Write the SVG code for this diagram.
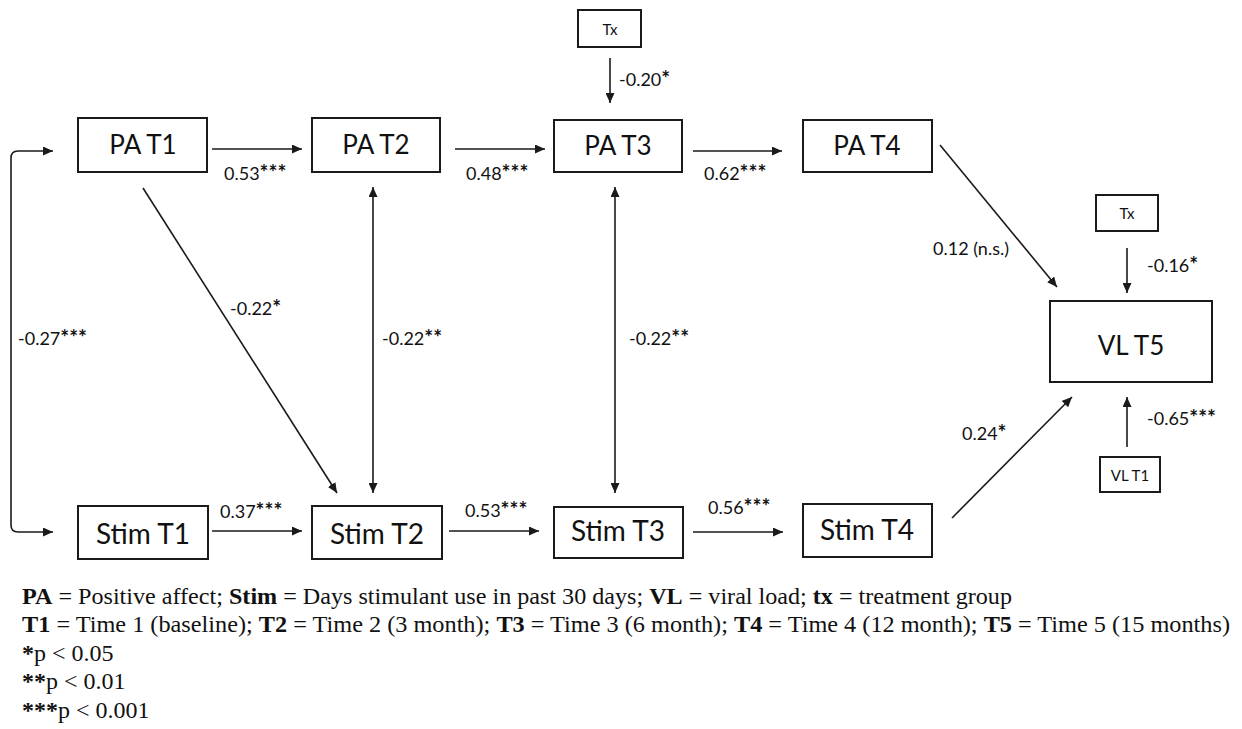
<svg xmlns="http://www.w3.org/2000/svg" width="1242" height="729" viewBox="0 0 1242 729">
<style>
.box{fill:#fff;stroke:#1a1a1a;stroke-width:2}
.lbl{font-family:Lato,"Open Sans",sans-serif;fill:#111;text-anchor:middle}
.big{font-size:26px}
.stim{font-size:28px}
.sm{font-size:15px}
.coef{font-family:Lato,"Open Sans",sans-serif;font-size:18px;fill:#111}
.st{font-size:21px;font-weight:bold}
.con{fill:none;stroke:#1a1a1a;stroke-width:1.6}
.leg{font-family:"Liberation Serif","Times New Roman",serif;font-size:23px;fill:#111}
.leg2{font-size:24px}
.b{font-weight:bold}
</style>
<defs>
<marker id="ah" markerUnits="userSpaceOnUse" markerWidth="11" markerHeight="9" refX="10" refY="4.5" orient="auto-start-reverse">
<path d="M0,0 L10,4.5 L0,9 z" fill="#1a1a1a"/>
</marker>
</defs>
<rect width="1242" height="729" fill="#fff"/>
<g id="connectors">
<path class="con" d="M53,151 L18,151 Q11,151 11,158 L11,525 Q11,532 18,532 L53,532" marker-start="url(#ah)" marker-end="url(#ah)"/>
<line class="con" x1="212" y1="149" x2="302" y2="149" marker-end="url(#ah)"/>
<line class="con" x1="455" y1="149" x2="545" y2="149" marker-end="url(#ah)"/>
<line class="con" x1="693" y1="151" x2="782" y2="151" marker-end="url(#ah)"/>
<line class="con" x1="610" y1="58" x2="610" y2="103" marker-end="url(#ah)"/>
<line class="con" x1="143" y1="188" x2="337" y2="493" marker-end="url(#ah)"/>
<line class="con" x1="373" y1="187" x2="373" y2="493" marker-start="url(#ah)" marker-end="url(#ah)"/>
<line class="con" x1="615" y1="187" x2="615" y2="493" marker-start="url(#ah)" marker-end="url(#ah)"/>
<line class="con" x1="212" y1="531" x2="302" y2="531" marker-end="url(#ah)"/>
<line class="con" x1="449" y1="531" x2="539" y2="531" marker-end="url(#ah)"/>
<line class="con" x1="693" y1="532" x2="783" y2="532" marker-end="url(#ah)"/>
<line class="con" x1="940" y1="145" x2="1057" y2="287" marker-end="url(#ah)"/>
<line class="con" x1="952" y1="518" x2="1072" y2="397" marker-end="url(#ah)"/>
<line class="con" x1="1127" y1="248" x2="1127" y2="293" marker-end="url(#ah)"/>
<line class="con" x1="1127" y1="447" x2="1127" y2="397" marker-end="url(#ah)"/>
<text class="coef" x="224" y="180">0.53<tspan class="st">***</tspan></text>
<text class="coef" x="466" y="180">0.48<tspan class="st">***</tspan></text>
<text class="coef" x="704" y="180">0.62<tspan class="st">***</tspan></text>
<text class="coef" x="619" y="86">-0.20<tspan class="st">*</tspan></text>
<text class="coef" x="18" y="345">-0.27<tspan class="st">***</tspan></text>
<text class="coef" x="230" y="315">-0.22<tspan class="st">*</tspan></text>
<text class="coef" x="382" y="345">-0.22<tspan class="st">**</tspan></text>
<text class="coef" x="629" y="345">-0.22<tspan class="st">**</tspan></text>
<text class="coef" x="220" y="518">0.37<tspan class="st">***</tspan></text>
<text class="coef" x="465" y="517">0.53<tspan class="st">***</tspan></text>
<text class="coef" x="708" y="514">0.56<tspan class="st">***</tspan></text>
<text class="coef" x="933" y="255">0.12 (n.s.)</text>
<text class="coef" x="962" y="440">0.24<tspan class="st">*</tspan></text>
<text class="coef" x="1147" y="272">-0.16<tspan class="st">*</tspan></text>
<text class="coef" x="1147" y="425">-0.65<tspan class="st">***</tspan></text>
</g>
<g id="pa_t1"><rect class="box" x="78" y="118" width="129" height="54"/><text class="lbl big" x="143" y="154">PA T1</text></g>
<g id="pa_t2"><rect class="box" x="312" y="118" width="128" height="54"/><text class="lbl big" x="376" y="154">PA T2</text></g>
<g id="pa_t3"><rect class="box" x="554" y="120" width="128" height="52"/><text class="lbl big" x="618" y="155">PA T3</text></g>
<g id="pa_t4"><rect class="box" x="803" y="120" width="129" height="52"/><text class="lbl big" x="867" y="155">PA T4</text></g>
<g id="tx_top"><rect class="box" x="578" y="10" width="63" height="37" stroke-width="1.6"/><text class="lbl sm" x="610" y="35">Tx</text></g>
<g id="stim_t1"><rect class="box" x="78" y="506" width="130" height="53"/><text class="lbl stim" x="143" y="544">Stim T1</text></g>
<g id="stim_t2"><rect class="box" x="312" y="506" width="130" height="53"/><text class="lbl stim" x="377" y="544">Stim T2</text></g>
<g id="stim_t3"><rect class="box" x="554" y="507" width="129" height="51"/><text class="lbl stim" x="618" y="541">Stim T3</text></g>
<g id="stim_t4"><rect class="box" x="803" y="504" width="129" height="53"/><text class="lbl stim" x="867" y="540">Stim T4</text></g>
<g id="vl_t5"><rect class="box" x="1050" y="301" width="162" height="81"/><text class="lbl big" x="1131" y="355">VL T5</text></g>
<g id="tx_right"><rect class="box" x="1096" y="195" width="62" height="36" stroke-width="1.6"/><text class="lbl sm" x="1127" y="219">Tx</text></g>
<g id="vl_t1"><rect class="box" x="1100" y="457" width="60" height="35" stroke-width="1.6"/><text class="lbl sm" x="1130" y="481">VL T1</text></g>
<g id="legend">
<text class="leg" x="22" y="604" textLength="990" lengthAdjust="spacingAndGlyphs"><tspan class="b">PA</tspan> = Positive affect; <tspan class="b">Stim</tspan> = Days stimulant use in past 30 days; <tspan class="b">VL</tspan> = viral load; <tspan class="b">tx</tspan> = treatment group</text>
<text class="leg" x="22" y="632" textLength="1208" lengthAdjust="spacingAndGlyphs"><tspan class="b">T1</tspan> = Time 1 (baseline); <tspan class="b">T2</tspan> = Time 2 (3 month); <tspan class="b">T3</tspan> = Time 3 (6 month); <tspan class="b">T4</tspan> = Time 4 (12 month); <tspan class="b">T5</tspan> = Time 5 (15 months)</text>
<text class="leg leg2" x="22" y="661"><tspan class="b">*</tspan>p &lt; 0.05</text>
<text class="leg leg2" x="22" y="689"><tspan class="b">**</tspan>p &lt; 0.01</text>
<text class="leg leg2" x="22" y="718"><tspan class="b">***</tspan>p &lt; 0.001</text>
</g>
</svg>
